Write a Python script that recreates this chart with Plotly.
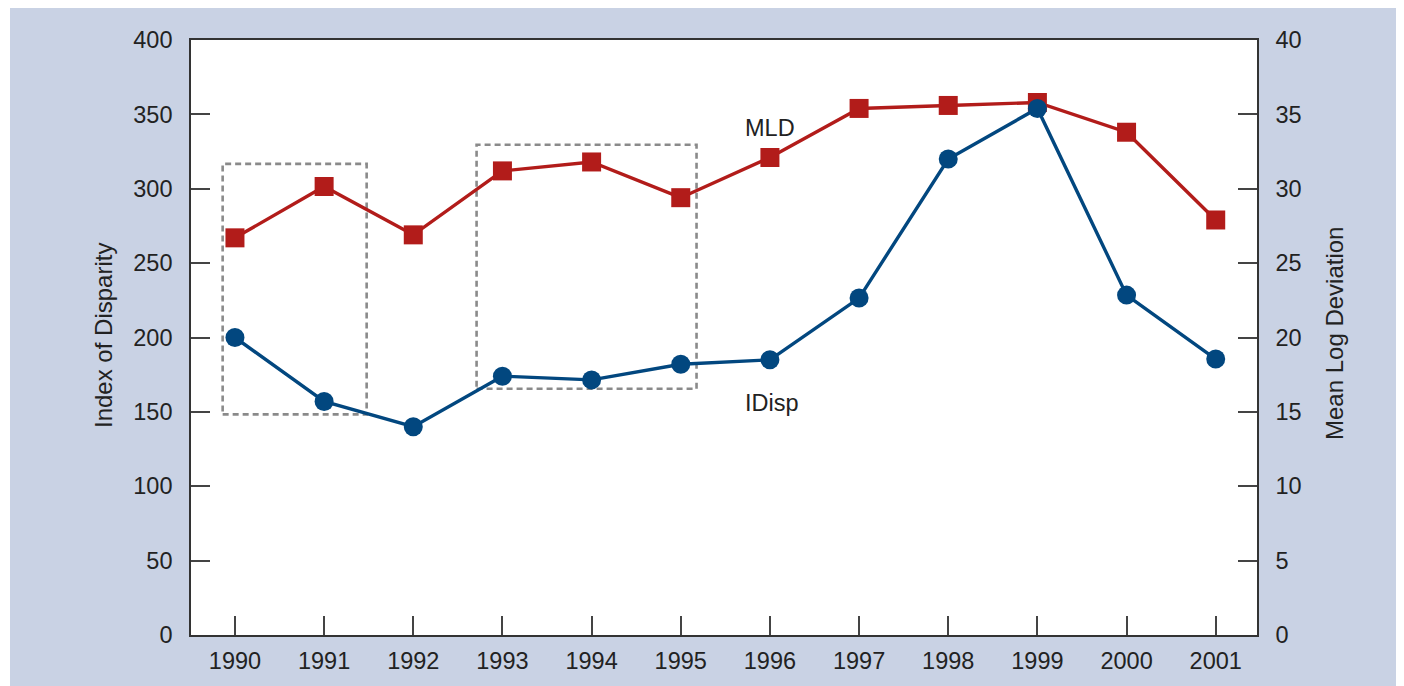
import plotly.graph_objects as go

years = [1990, 1991, 1992, 1993, 1994, 1995, 1996, 1997, 1998, 1999, 2000, 2001]
idisp = [200, 157, 140, 174, 171.5, 182, 185, 226.5, 320, 354, 228.5, 185.5]
mld = [26.7, 30.15, 26.9, 31.2, 31.8, 29.4, 32.1, 35.4, 35.6, 35.8, 33.8, 27.9]

left_ticks = list(range(0, 401, 50))
right_ticks = list(range(0, 41, 5))

# dashed highlight boxes (x0, x1, y0, y1) in data units of year / index of disparity
boxes = [(1989.862, 1991.477, 148.3, 316.7), (1992.71, 1995.177, 165.5, 329.6)]

RED = "#b21c1a"
BLUE = "#02477f"
BG = "#c9d2e4"
TXT = "#222222"
FONT = "Liberation Sans, Arial, sans-serif"

# page is offset by the 8px body margin
OFF = 8
W, H = 1396, 678
L, R, T, B = 191 - OFF, 147, 40 - OFF, 49
pw, ph = W - L - R, H - T - B


def px(page_x):
    return (page_x - OFF - L) / pw


def py(page_y):
    return (H - B - (page_y - OFF)) / ph


fig = go.Figure()
fig.add_trace(go.Scatter(x=years, y=mld, name="MLD", mode="lines+markers", yaxis="y",
                         line=dict(color=RED, width=3.4),
                         marker=dict(symbol="square", size=19, color=RED)))
fig.add_trace(go.Scatter(x=years, y=idisp, name="IDisp", mode="lines+markers", yaxis="y2",
                         line=dict(color=BLUE, width=3.4),
                         marker=dict(symbol="circle", size=19, color=BLUE)))

shapes = []
for x0, x1, y0, y1 in boxes:
    shapes.append(dict(type="rect", xref="x", yref="y2", x0=x0, x1=x1, y0=y0, y1=y1,
                       line=dict(color="#8a8a8a", width=2.6, dash="6px,4px"), layer="below"))
# thin white strip on the left of the page
shapes.append(dict(type="rect", xref="paper", yref="paper", x0=px(0), x1=px(10), y0=py(-5), y1=py(H + 20),
                   fillcolor="white", line=dict(width=0), layer="above"))

annotations = [
    dict(x=1995.696, y=340.7, xref="x", yref="y2", text="MLD", showarrow=False, xanchor="left",
         yanchor="middle", font=dict(size=23.5, color=TXT, family=FONT)),
    dict(x=1995.696, y=156.1, xref="x", yref="y2", text="IDisp", showarrow=False, xanchor="left",
         yanchor="middle", font=dict(size=23.5, color=TXT, family=FONT)),
    dict(x=px(103), y=py(337), xref="paper", yref="paper", text="Index of Disparity", textangle=-90,
         showarrow=False, xanchor="center", yanchor="middle", font=dict(size=24, color=TXT, family=FONT)),
    dict(x=px(1334), y=py(335), xref="paper", yref="paper", text="Mean Log Deviation", textangle=-90,
         showarrow=False, xanchor="center", yanchor="middle", font=dict(size=24, color=TXT, family=FONT)),
]

axis_common = dict(showgrid=False, zeroline=False, showline=True, linecolor="#333333", linewidth=1.6,
                   ticks="inside", ticklen=19, tickwidth=1.6, tickcolor="#444444",
                   tickfont=dict(size=23.5, color=TXT, family=FONT))

fig.update_layout(
    width=W, height=H,
    margin=dict(l=L, r=R, t=T, b=B, pad=0),
    paper_bgcolor=BG, plot_bgcolor="white",
    showlegend=False,
    font=dict(family=FONT, color=TXT),
    xaxis=dict(range=[1989.507, 2001.463], tickvals=years, ticktext=[str(y) for y in years],
               mirror=True, ticklabelstandoff=4, **axis_common),
    yaxis=dict(range=[0, 40], tickvals=right_ticks, side="right", ticklabelstandoff=12, **axis_common),
    yaxis2=dict(range=[0, 400], tickvals=left_ticks, side="left", overlaying="y",
                ticklabelstandoff=12, **axis_common),
    shapes=shapes,
    annotations=annotations,
)

fig.write_html("out.html")
